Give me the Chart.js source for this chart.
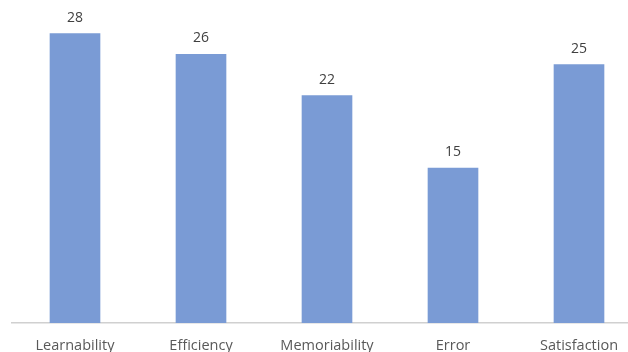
<!DOCTYPE html>
<html><head><meta charset="utf-8">
<script src="https://cdn.jsdelivr.net/npm/chart.js@4/dist/chart.umd.min.js"></script>
<style>html,body{margin:0;padding:0;overflow:hidden;background:#fff;width:628px;height:352px}
#wrap{position:absolute;left:0;top:0;width:656px;height:352px}</style>
</head><body>
<div id="wrap"><canvas id="c" width="656" height="352"></canvas></div>
<script>
const categories = ["Learnability","Efficiency","Memoriability","Error","Satisfaction"];
const values = [28, 26, 22, 15, 25];

const valueLabels = {
  id: 'valueLabels',
  afterDatasetsDraw(chart) {
    const ctx = chart.ctx;
    ctx.save();
    ctx.font = '14px "Open Sans"';
    ctx.fillStyle = '#404040';
    ctx.textAlign = 'center';
    ctx.textBaseline = 'middle';
    chart.getDatasetMeta(0).data.forEach((bar, i) => {
      ctx.fillText(String(chart.data.datasets[0].data[i]), bar.x, bar.y - 16);
    });
    ctx.restore();
  }
};

new Chart(document.getElementById('c'), {
  type: 'bar',
  data: { labels: categories, datasets: [{ data: values, backgroundColor: '#7A9BD5', barThickness: 50 }] },
  options: {
    responsive: false, animation: false,
    layout: { padding: { left: 12, right: 14, top: 13, bottom: 0 } },
    plugins: { legend: { display: false }, tooltip: { enabled: false } },
    scales: {
      x: {
        grid: { display: false, drawTicks: false },
        border: { display: true, color: '#d0d0d0', width: 1.5 },
        ticks: { color: '#595959', font: { family: '"Open Sans"', size: 14.5 }, padding: 14, maxRotation: 0 },
        afterFit(s) { s.height = 29; }
      },
      y: { display: false, min: 0, max: 30 }
    }
  },
  plugins: [valueLabels]
});
</script>
</body></html>
